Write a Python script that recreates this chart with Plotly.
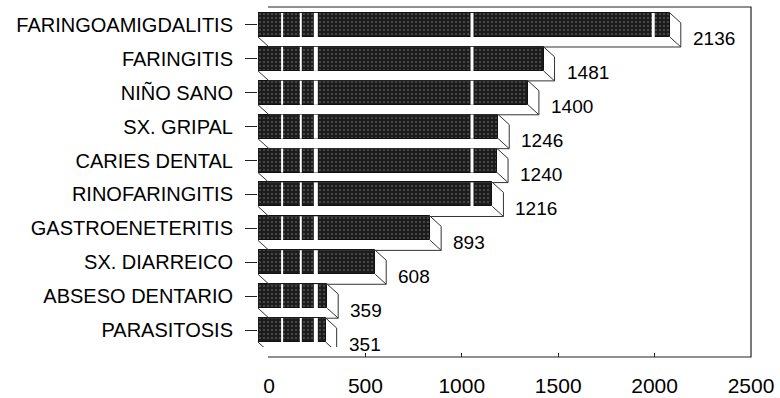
import plotly.graph_objects as go

categories = ["FARINGOAMIGDALITIS", "FARINGITIS", "NIÑO SANO", "SX. GRIPAL",
              "CARIES DENTAL", "RINOFARINGITIS", "GASTROENETERITIS",
              "SX. DIARREICO", "ABSESO DENTARIO", "PARASITOSIS"]
values = [2136, 1481, 1400, 1246, 1240, 1216, 893, 608, 359, 351]
tick_vals = [0, 500, 1000, 1500, 2000, 2500]
tick_text = ["0", "500", "1000", "1500", "2000", "2500"]

# ---- style / geometry constants ----
W, H = 780, 398
FONT = "Liberation Sans, Arial, Helvetica, sans-serif"
BAR_W = 0.71
DX = 57      # depth offset, in x units (~11 px)
DY = 0.295   # depth offset, in category units (~10 px)
STRIPES = [(125, 2), (222, 2), (300, 4), (1110, 3), (2050, 3)]

px = lambda v: v / W
py = lambda v: 1 - v / H

ypos = list(range(len(categories)))

fig = go.Figure()

# 3D depth outline
ox, oy = [], []
for i, v in zip(ypos, values):
    t, b = i - BAR_W / 2, i + BAR_W / 2
    ox += [v, v + DX, v + DX, DX, 0, None, v, v + DX, None]
    oy += [t, t + DY, b + DY, b + DY, b, None, b, b + DY, None]
fig.add_trace(go.Scatter(x=ox, y=oy, mode="lines",
                         line=dict(color="#333333", width=1),
                         hoverinfo="skip", showlegend=False))

# front bars
fig.add_trace(go.Bar(
    x=values, y=ypos, orientation="h", width=BAR_W,
    marker=dict(color="#1c1c1c",
                line=dict(color="#111111", width=1),
                pattern=dict(shape=".", fgcolor="#8c8c8c", bgcolor="#1c1c1c",
                             size=4, solidity=0.2)),
    hoverinfo="skip", showlegend=False))

# white scan stripes on bars
for sx, sw in STRIPES:
    lx, ly = [], []
    for i, v in zip(ypos, values):
        if sx < v - 20:
            lx += [sx, sx, None]
            ly += [i - BAR_W / 2, i + BAR_W / 2, None]
    if lx:
        fig.add_trace(go.Scatter(x=lx, y=ly, mode="lines",
                                 line=dict(color="white", width=sw),
                                 hoverinfo="skip", showlegend=False))

# dummy trace for back (tick) axis
fig.add_trace(go.Scatter(x=[0], y=[0], xaxis="x2", mode="markers",
                         marker=dict(opacity=0), hoverinfo="skip",
                         showlegend=False))

for i, v in zip(ypos, values):
    fig.add_annotation(x=v, y=i, text=str(v), showarrow=False,
                       xanchor="left", yanchor="middle",
                       xshift=21, yshift=-14,
                       font=dict(size=19, color="black", family=FONT))

fig.add_shape(type="path", xref="paper", yref="paper",
              path=f"M {px(268)},{py(7)} L {px(751)},{py(7)} "
                   f"L {px(751)},{py(357)} L {px(268)},{py(357)}",
              line=dict(color="#222222", width=1.2))

fig.update_layout(
    width=W, height=H, margin=dict(l=0, r=0, t=0, b=0, autoexpand=False),
    paper_bgcolor="white", plot_bgcolor="rgba(0,0,0,0)",
    font=dict(family=FONT, color="black"),
    bargap=0,
    xaxis=dict(domain=[px(258), px(740)], range=[0, 2500], visible=False,
               automargin=False),
    xaxis2=dict(domain=[px(269), px(751)], range=[0, 2500], anchor="free",
                position=py(357), tickvals=tick_vals, ticktext=tick_text,
                ticks="inside", ticklen=4, tickcolor="#222",
                showgrid=False, zeroline=False, showline=False,
                automargin=False,
                tickfont=dict(size=21, color="black", family=FONT),
                ticklabelstandoff=14),
    yaxis=dict(domain=[py(347), py(8)], range=[9.5, -0.5],
               tickvals=ypos, ticktext=categories,
               ticks="outside", ticklen=12, tickcolor="#222",
               showgrid=False, zeroline=False, showline=False,
               automargin=False,
               tickfont=dict(size=20, color="black", family=FONT),
               ticklabelstandoff=8),
)

fig.write_html("out.html")
